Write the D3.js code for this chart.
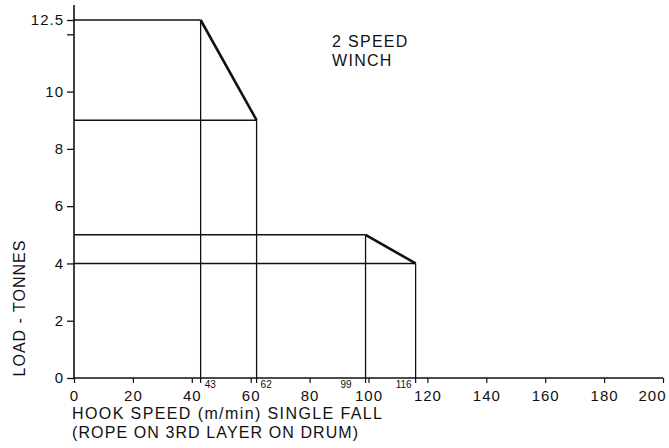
<!DOCTYPE html>
<html>
<head>
<meta charset="utf-8">
<script src="https://cdn.jsdelivr.net/npm/d3@7"></script>
<style>
  body { margin: 0; background: #fff; }
  text { font-family: "Liberation Sans", Arial, sans-serif; fill: #111; }
</style>
</head>
<body>
<div id="chart"></div>
<script>
// axis ticks
var xTicks = [0, 20, 40, 60, 80, 100, 120, 140, 160, 180, 200];
var yTicks = [0, 2, 4, 6, 8, 10, 12, 12.5];
var yLabelled = [0, 2, 4, 6, 8, 10, 12.5];

// speed break points (small labels on the x axis)
var breakSpeeds = [43, 62, 99, 116];

// performance envelopes: [speed, load]
var highGear = [[0, 12.5], [43, 12.5], [62, 9]];
var highGearBase = [[0, 9], [62, 9]];
var lowGear = [[0, 5], [99, 5], [116, 4]];
var lowGearBase = [[0, 4], [116, 4]];

// vertical drops: [speed, load]
var drops = [[43, 12.5], [62, 9], [99, 5], [116, 4]];

var W = 669, H = 448;

var svg = d3.select("#chart").append("svg")
    .attr("width", W)
    .attr("height", H);

var x = d3.scaleLinear().domain([0, 200]).range([74, 663]);
var y = d3.scaleLinear().domain([0, 12.5]).range([378, 20]);

// axes lines
svg.append("line")
    .attr("x1", x(0)).attr("x2", x(0))
    .attr("y1", 5).attr("y2", y(0))
    .attr("stroke", "#111").attr("stroke-width", 1.6);
svg.append("line")
    .attr("x1", x(0)).attr("x2", x(200))
    .attr("y1", y(0)).attr("y2", y(0))
    .attr("stroke", "#111").attr("stroke-width", 1.6);

// y axis
var yAxis = d3.axisLeft(y)
    .tickValues(yTicks)
    .tickSize(7)
    .tickPadding(3)
    .tickFormat(function(d) { return yLabelled.indexOf(d) >= 0 ? d : ""; });
var gy = svg.append("g")
    .attr("transform", "translate(" + x(0) + ",0)")
    .call(yAxis);
gy.select(".domain").remove();
gy.selectAll("text")
    .style("font-size", "15px")
    .style("letter-spacing", "1px")
    .style("font-family", "Liberation Sans, Arial, sans-serif");
gy.selectAll("line").attr("stroke", "#111").attr("stroke-width", 1.3);

// x axis
var xAxis = d3.axisBottom(x)
    .tickValues(xTicks)
    .tickSize(5)
    .tickPadding(7)
    .tickFormat(d3.format("d"));
var gx = svg.append("g")
    .attr("transform", "translate(0," + y(0) + ")")
    .call(xAxis);
gx.select(".domain").remove();
gx.selectAll("text")
    .style("font-size", "15px")
    .style("letter-spacing", "1px")
    .style("font-family", "Liberation Sans, Arial, sans-serif")
    .attr("dx", function(d) { return d === 200 ? -11 : 0; });
gx.selectAll("line").attr("stroke", "#111").attr("stroke-width", 1.2);

// break point ticks and small labels
svg.selectAll(".brk")
    .data(breakSpeeds)
  .enter().append("line")
    .attr("x1", function(d) { return x(d); })
    .attr("x2", function(d) { return x(d); })
    .attr("y1", y(0)).attr("y2", y(0) + 5)
    .attr("stroke", "#111").attr("stroke-width", 1.2);

svg.selectAll(".brkLabel")
    .data(breakSpeeds)
  .enter().append("text")
    .attr("x", function(d, i) {
      if (i < 2) return x(d) + 4;
      return i == 2 ? x(d) - 14 : x(d) - 4;
    })
    .attr("y", y(0) + 10)
    .attr("text-anchor", function(d, i) { return i < 2 ? "start" : "end"; })
    .style("font-size", "10px")
    .text(function(d) { return d; });

var line = d3.line()
    .x(function(d) { return x(d[0]); })
    .y(function(d) { return y(d[1]); });

// horizontal base lines
[highGearBase, lowGearBase].forEach(function(p) {
  svg.append("path").attr("d", line(p))
      .attr("fill", "none").attr("stroke", "#111").attr("stroke-width", 1.6);
});

// envelopes
[highGear, lowGear].forEach(function(p) {
  svg.append("path").attr("d", line(p.slice(0, 2)))
      .attr("fill", "none").attr("stroke", "#111").attr("stroke-width", 1.6);
  svg.append("path").attr("d", line(p.slice(1)))
      .attr("fill", "none").attr("stroke", "#111").attr("stroke-width", 2.6);
});

// verticals
svg.selectAll(".drop")
    .data(drops)
  .enter().append("line")
    .attr("x1", function(d) { return x(d[0]); })
    .attr("x2", function(d) { return x(d[0]); })
    .attr("y1", function(d) { return y(d[1]); })
    .attr("y2", y(0))
    .attr("stroke", "#111").attr("stroke-width", 1.3);

// annotation
svg.append("text")
    .attr("x", 332).attr("y", 47)
    .style("font-size", "16px")
    .style("letter-spacing", "1.3px")
    .text("2 SPEED");
svg.append("text")
    .attr("x", 332).attr("y", 66)
    .style("font-size", "16px")
    .style("letter-spacing", "1.3px")
    .text("WINCH");

// axis titles
svg.append("text")
    .attr("transform", "translate(25,308) rotate(-90)")
    .attr("text-anchor", "middle")
    .style("font-size", "16px")
    .style("letter-spacing", "1px")
    .text("LOAD - TONNES");

svg.append("text")
    .attr("x", 72).attr("y", 419)
    .style("font-size", "16px")
    .style("letter-spacing", "1.4px")
    .text("HOOK SPEED (m/min) SINGLE FALL");
svg.append("text")
    .attr("x", 72).attr("y", 438)
    .style("font-size", "16px")
    .style("letter-spacing", "1.1px")
    .text("(ROPE ON 3RD LAYER ON DRUM)");
</script>
</body>
</html>
